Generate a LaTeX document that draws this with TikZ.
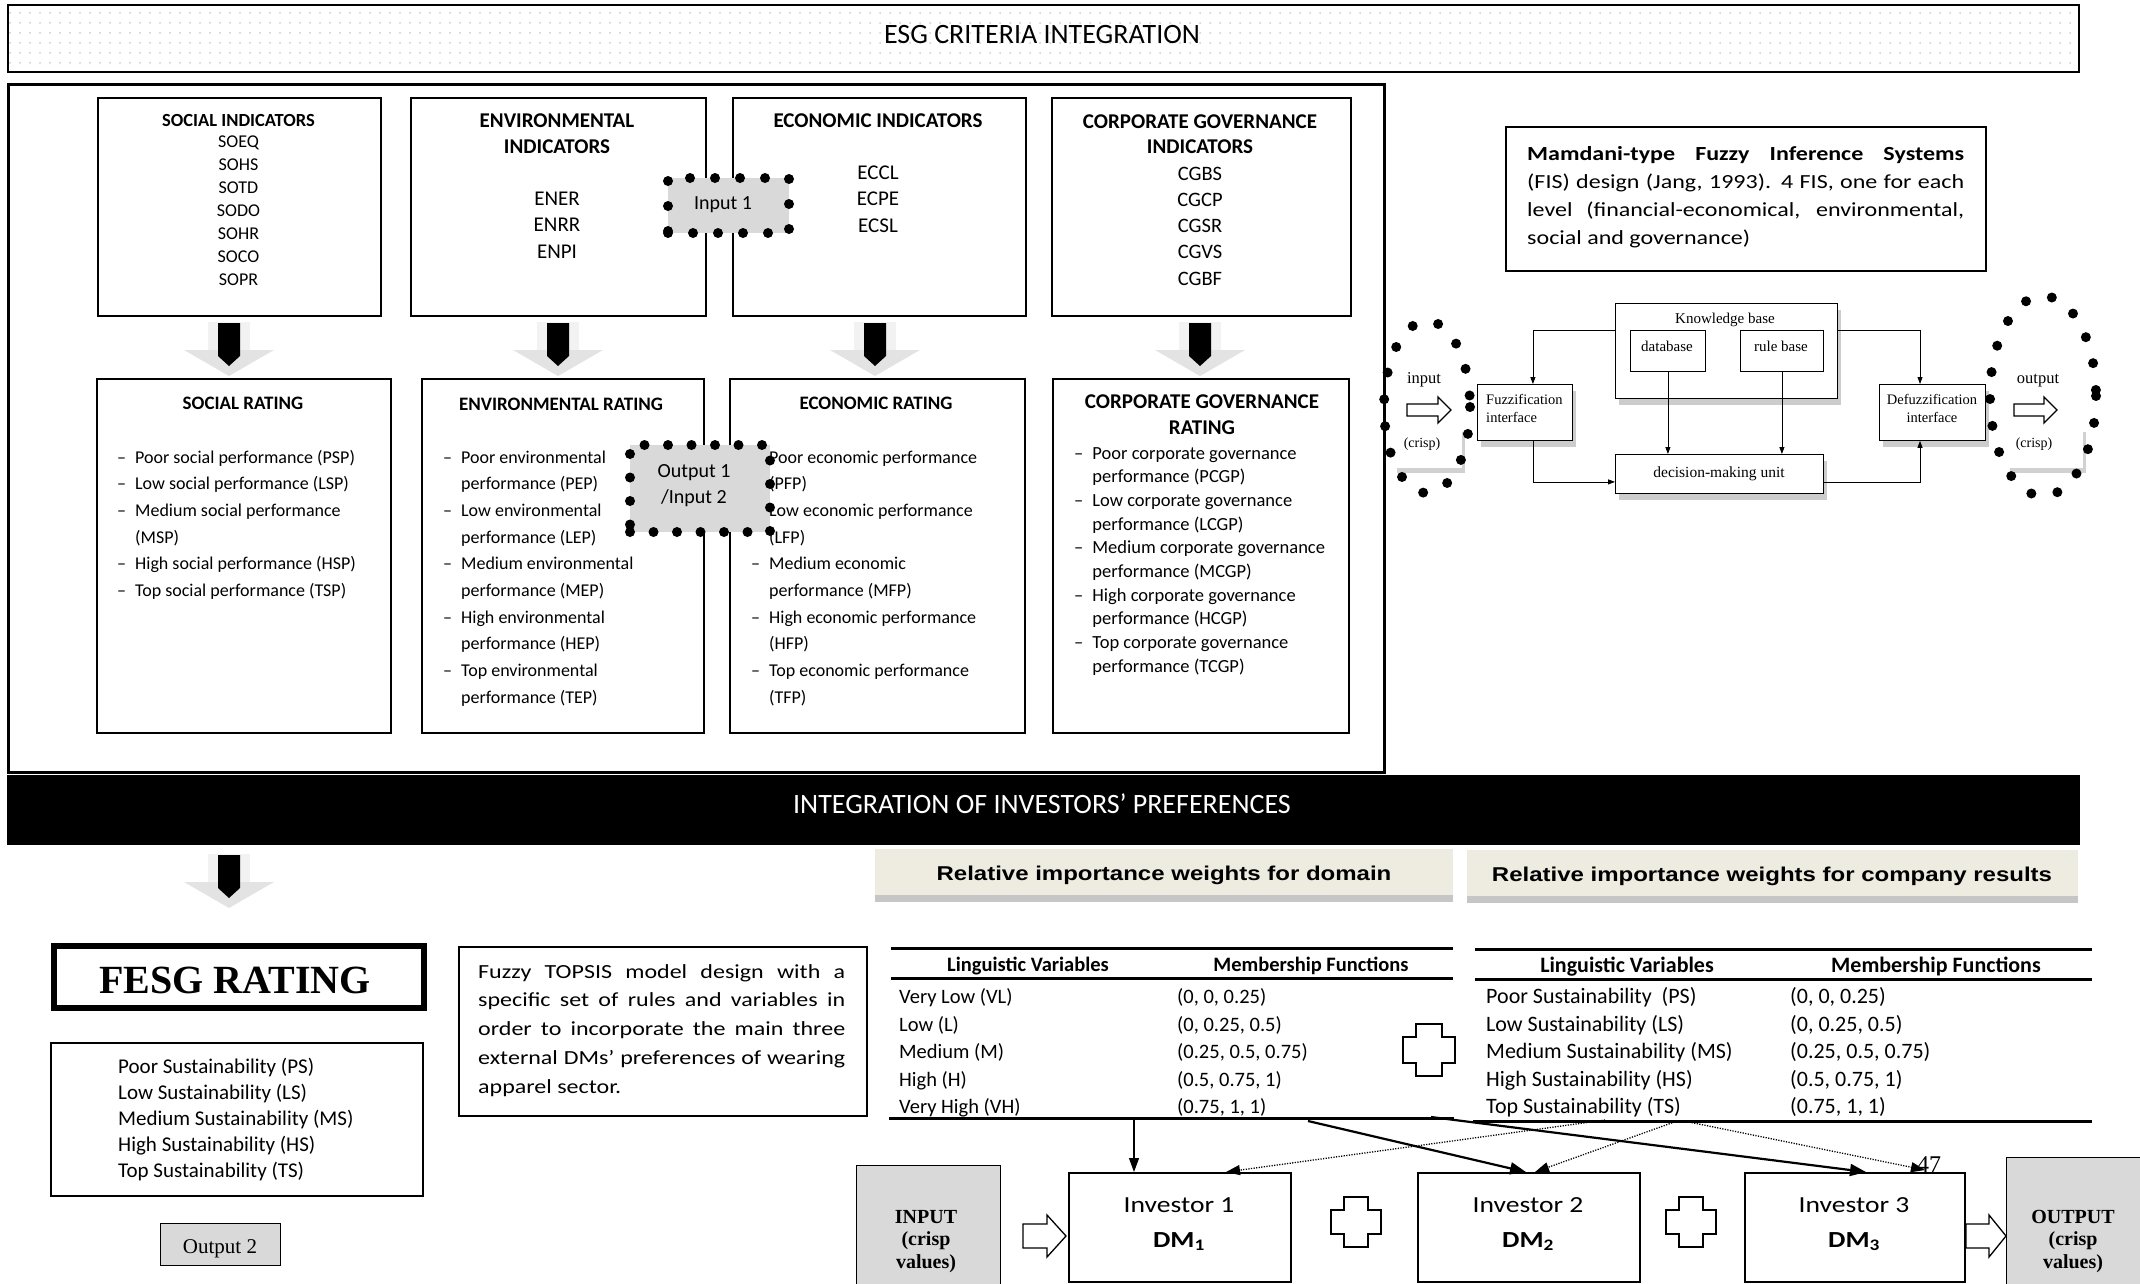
\documentclass[tikz,border=0pt]{standalone}
\usepackage{fontspec}
\setmainfont{Carlito}
\newfontfamily\calw[FakeStretch=1.2]{Carlito}
\newfontfamily\tnr{Liberation Serif}
\newfontfamily\arialw[FakeStretch=1.2]{Liberation Sans}
\usetikzlibrary{arrows.meta,shadows,patterns.meta,calc}
\definecolor{beige}{HTML}{EEECE1}
\definecolor{lgray}{HTML}{D9D9D9}
\newcommand\fsz[2]{\fontsize{#1}{#2}\selectfont}
\newcommand\plusshape[4]{\draw[line width=1.6pt,fill=white] (#1-#4,#2-#3) -- (#1+#4,#2-#3) -- (#1+#4,#2-#4) -- (#1+#3,#2-#4) -- (#1+#3,#2+#4) -- (#1+#4,#2+#4) -- (#1+#4,#2+#3) -- (#1-#4,#2+#3) -- (#1-#4,#2+#4) -- (#1-#3,#2+#4) -- (#1-#3,#2-#4) -- (#1-#4,#2-#4) -- cycle;}
\newcommand\hollowarrow[6]{\draw[line width=1.3pt,fill=white] (#1,#3-#4) -- (#2-#6,#3-#4) -- (#2-#6,#3-#5) -- (#2,#3) -- (#2-#6,#3+#5) -- (#2-#6,#3+#4) -- (#1,#3+#4) -- cycle;}
\newcommand\bnode[6][]{\node[bx,#1,minimum width=#5pt,minimum height=#6pt] (#2) at (#3,#4) {};}
\tikzset{blockdown/.pic={
  \fill[gray!10] (-21,-1) rectangle (21,30);
  \fill[gray!22] (-45,27) -- (45,27) -- (0,53) -- cycle;
  \fill[black] (-11,0) -- (11,0) -- (11,33) -- (0,43) -- (-11,33) -- cycle;
}}
\begin{document}
\begin{tikzpicture}[x=1pt,y=-1pt,
  bx/.style={draw,line width=1.6pt,inner sep=0pt,anchor=north west},
  tb/.style={inner sep=0pt,anchor=base},
  tbw/.style={inner sep=0pt,anchor=base west},
  fbox/.style={draw,line width=0.8pt,fill=white,inner sep=0pt,anchor=north west,drop shadow={shadow xshift=4pt,shadow yshift=-7pt,fill=black,opacity=0.2}},
  pbox/.style={draw,line width=0.8pt,fill=white,inner sep=0pt,anchor=north west},
  farr/.style={line width=0.8pt,-{Triangle[length=7pt,width=5pt]}},
  bigdots/.style={draw,line width=10pt,line cap=round,dash pattern=on 0pt off 25pt,fill=lgray,inner sep=0pt,anchor=north west},
  ringdots/.style={line width=10pt,line cap=round,dash pattern=on 0pt off 27pt},
  thinarr/.style={line width=1.1pt,-{Triangle[length=14pt,width=10pt]}},
  thickarr/.style={line width=2.2pt,-{Triangle[length=16pt,width=12pt]}},
  dotarr/.style={line width=1.3pt,dash pattern=on 1.2pt off 1.4pt,-{Triangle[length=14pt,width=10pt]}},
  relbox/.style={anchor=north west,inner sep=0pt,fill=beige,drop shadow={shadow xshift=0pt,shadow yshift=-7pt,fill=gray,opacity=0.45}}
]
\useasboundingbox (0,0) rectangle (2140,1283);

% ---------- top banner ----------
\node[bx,line width=2.2pt,pattern={Dots[distance=10pt,radius=1pt]},pattern color=gray!40,minimum width=2071pt,minimum height=67pt] (ban1) at (7,4) {};
\node[tb] (ban1t) at (1042,43) {\fsz{28}{32}ESG CRITERIA INTEGRATION};

\node[bx,line width=2.5pt,minimum width=1376pt,minimum height=688pt] (esg) at (7,83) {};

% ---------- indicator boxes ----------
\bnode{socI}{97}{97}{283}{218}
\bnode{envI}{410}{97}{295}{218}
\bnode{ecoI}{732}{97}{293}{218}
\bnode{cgI}{1051}{97}{299}{218}

\node[tb] (socIt) at (238.5,126) {\fsz{18.5}{22}\bfseries SOCIAL INDICATORS};
\node[tb] (socIl) at (238.5,147.5) {\fsz{18}{23}\begin{tabular}[t]{@{}c@{}}SOEQ\\SOHS\\SOTD\\SODO\\SOHR\\SOCO\\SOPR\end{tabular}};
\node[tb] (envIt) at (557,127) {\fsz{21}{26}\bfseries\begin{tabular}[t]{@{}c@{}}ENVIRONMENTAL\\INDICATORS\end{tabular}};
\node[tb] (envIl) at (557,205) {\fsz{21}{26.5}\begin{tabular}[t]{@{}c@{}}ENER\\ENRR\\ENPI\end{tabular}};
\node[tb] (ecoIt) at (878,127) {\fsz{21}{26}\bfseries ECONOMIC INDICATORS};
\node[tb] (ecoIl) at (878,179) {\fsz{21}{26.5}\begin{tabular}[t]{@{}c@{}}ECCL\\ECPE\\ECSL\end{tabular}};
\node[tb] (cgIt) at (1200,128) {\fsz{21}{25}\bfseries\begin{tabular}[t]{@{}c@{}}CORPORATE GOVERNANCE\\INDICATORS\end{tabular}};
\node[tb] (cgIl) at (1200,180) {\fsz{20.5}{26.3}\begin{tabular}[t]{@{}c@{}}CGBS\\CGCP\\CGSR\\CGVS\\CGBF\end{tabular}};

% ---------- block arrows ----------
\pic (ba1) at (229,323) {blockdown};
\pic (ba2) at (558,323) {blockdown};
\pic (ba3) at (875,323) {blockdown};
\pic (ba4) at (1200,323) {blockdown};

% ---------- rating boxes ----------
\bnode{socR}{96}{378}{294}{354}
\bnode{envR}{421}{378}{282}{354}
\bnode{ecoR}{729}{378}{295}{354}
\bnode{cgR}{1052}{378}{296}{354}

\node[tb] (socRt) at (243,409) {\fsz{19}{23}\bfseries SOCIAL RATING};
\node[tb] (envRt) at (561,410) {\fsz{19}{23}\bfseries ENVIRONMENTAL RATING};
\node[tb] (ecoRt) at (876,409) {\fsz{19}{23}\bfseries ECONOMIC RATING};
\node[tb] (cgRt) at (1202,408) {\fsz{21}{26}\bfseries\begin{tabular}[t]{@{}c@{}}CORPORATE GOVERNANCE\\RATING\end{tabular}};

\node[tbw] (socRl) at (117,463) {\fsz{18}{26.7}\begin{tabular}[t]{@{}l@{\hspace{9pt}}l@{}}
– & Poor social performance (PSP)\\
– & Low social performance (LSP)\\
– & Medium social performance\\
  & (MSP)\\
– & High social performance (HSP)\\
– & Top social performance (TSP)\end{tabular}};
\node[tbw] (envRl) at (443,463) {\fsz{18}{26.67}\begin{tabular}[t]{@{}l@{\hspace{9pt}}l@{}}
– & Poor environmental\\ & performance (PEP)\\
– & Low environmental\\ & performance (LEP)\\
– & Medium environmental\\ & performance (MEP)\\
– & High environmental\\ & performance (HEP)\\
– & Top environmental\\ & performance (TEP)\end{tabular}};
\node[tbw] (ecoRl) at (751,463) {\fsz{18}{26.67}\begin{tabular}[t]{@{}l@{\hspace{9pt}}l@{}}
– & Poor economic performance\\ & (PFP)\\
– & Low economic performance\\ & (LFP)\\
– & Medium economic\\ & performance (MFP)\\
– & High economic performance\\ & (HFP)\\
– & Top economic performance\\ & (TFP)\end{tabular}};
\node[tbw] (cgRl) at (1074,459) {\fsz{18.5}{23.67}\begin{tabular}[t]{@{}l@{\hspace{9pt}}l@{}}
– & Poor corporate governance\\ & performance (PCGP)\\
– & Low corporate governance\\ & performance (LCGP)\\
– & Medium corporate governance\\ & performance (MCGP)\\
– & High corporate governance\\ & performance (HCGP)\\
– & Top corporate governance\\ & performance (TCGP)\end{tabular}};

% ---------- dotted input/output nodes ----------
\node[bigdots,minimum width=121pt,minimum height=55pt] (in1) at (663,173) {};
\node[tb] (in1t) at (723,209) {\fsz{20}{24}Input 1};
\node[bigdots,dash pattern=on 0pt off 23.5pt,minimum width=140pt,minimum height=87pt] (out1) at (625,440) {};
\node[tb] (out1t) at (694,477) {\fsz{20}{26}\begin{tabular}[t]{@{}c@{}}Output 1\\/Input 2\end{tabular}};

% ---------- Mamdani text box ----------
\bnode{mam}{1505}{126}{480}{144}
\node[tbw] (mamt) at (1527,160) {\fsz{20}{28}\calw\begin{tabular}[t]{@{}l@{}}
\makebox[437pt][s]{\bfseries Mamdani-type Fuzzy Inference Systems}\\
\makebox[437pt][s]{(FIS) design (Jang, 1993). 4 FIS, one for each}\\
\makebox[437pt][s]{level (financial-economical, environmental,}\\
social and governance)\end{tabular}};

% ---------- fuzzy inference diagram ----------
\node[fbox,minimum width=222pt,minimum height=95pt] (kb) at (1615,303) {};
\node[pbox,minimum width=75pt,minimum height=41pt] (db) at (1630,330) {};
\node[pbox,minimum width=83pt,minimum height=41pt] (rb) at (1740,330) {};
\node[fbox,minimum width=95pt,minimum height=56pt] (fuzz) at (1477,384) {};
\node[fbox,minimum width=106pt,minimum height=56pt] (defuzz) at (1879,384) {};
\node[fbox,minimum width=208pt,minimum height=39pt] (dmu) at (1615,454) {};

\node[tb] (kbt) at (1725,323) {\tnr\fsz{15}{18}Knowledge base};
\node[tb] (dbt) at (1667,351) {\tnr\fsz{15}{18}database};
\node[tb] (rbt) at (1781,351) {\tnr\fsz{15}{18}rule base};
\node[tbw] (fuzzt) at (1486,404) {\tnr\fsz{14.5}{18}\begin{tabular}[t]{@{}l@{}}Fuzzification\\interface\end{tabular}};
\node[tb] (defuzzt) at (1932,404) {\tnr\fsz{14.5}{18}\begin{tabular}[t]{@{}c@{}}Defuzzification\\interface\end{tabular}};
\node[tb] (dmut) at (1719,477) {\tnr\fsz{15.5}{18}decision-making unit};

\draw[farr] (kb.west |- db.north) -| ($(fuzz.north)+(8,0)$);
\draw[farr] (kb.east |- rb.north) -| ($(defuzz.north west)+(41,0)$);
\draw[farr] (db.south) -- (db.south |- dmu.north);
\draw[farr] (rb.south) -- (rb.south |- dmu.north);
\draw[farr] ($(fuzz.south)+(8,0)$) |- ($(dmu.west)+(0,8)$);
\draw[farr] ($(dmu.east)+(0,8)$) -| ($(defuzz.south west)+(41,0)$);

\node[anchor=north west,inner sep=0pt,fill=white,minimum width=68pt,minimum height=41pt,drop shadow={shadow xshift=3pt,shadow yshift=-5pt,fill=black,opacity=0.18}] (crL) at (1394,427) {};
\node[anchor=north west,inner sep=0pt,fill=white,minimum width=76pt,minimum height=41pt,drop shadow={shadow xshift=3pt,shadow yshift=-5pt,fill=black,opacity=0.18}] (crR) at (2007,427) {};
\node[tb] (crLt) at (1422,447) {\tnr\fsz{14}{17}(crisp)};
\node[tb] (crRt) at (2034,447) {\tnr\fsz{14}{17}(crisp)};
\node[tb] (inpt) at (1424,383) {\tnr\fsz{16.5}{19}input};
\node[tb] (outpt) at (2038,383) {\tnr\fsz{16.5}{19}output};
\hollowarrow{1407}{1451}{410}{6}{13}{13}
\hollowarrow{2014}{2057}{410}{6}{13}{13}
\draw[ringdots] (1427,407) ellipse [x radius=43, y radius=86];
\draw[ringdots] (2043,396) ellipse [x radius=53, y radius=100];

% ---------- second banner ----------
\node[bx,fill=black,minimum width=2071pt,minimum height=68pt] (ban2) at (7,775) {};
\node[tb,text=white] (ban2t) at (1042,813) {\fsz{28}{32}INTEGRATION OF INVESTORS’ PREFERENCES};

\pic (ba5) at (229,855) {blockdown};

% ---------- FESG ----------
\node[bx,line width=6pt,minimum width=370pt,minimum height=62pt] (fesg) at (51,943) {};
\node[tb] (fesgt) at (235,993) {\tnr\bfseries\fsz{40}{44}FESG RATING};
\bnode{sus}{50}{1042}{372}{153}
\node[tbw] (sust) at (118,1073) {\fsz{21}{26}\begin{tabular}[t]{@{}l@{}}Poor Sustainability (PS)\\Low Sustainability (LS)\\Medium Sustainability (MS)\\High Sustainability (HS)\\Top Sustainability (TS)\end{tabular}};
\bnode[fill=lgray,line width=1.3pt]{out2}{160}{1223}{120}{42}
\node[tb] (out2t) at (220,1253) {\tnr\fsz{21}{24}Output 2};

\bnode{tops}{458}{946}{408}{169}
\node[tbw] (topst) at (478,978) {\fsz{20}{28.8}\calw\begin{tabular}[t]{@{}l@{}}
\makebox[367pt][s]{Fuzzy TOPSIS model design with a}\\
\makebox[367pt][s]{specific set of rules and variables in}\\
\makebox[367pt][s]{order to incorporate the main three}\\
\makebox[367pt][s]{external DMs’ preferences of wearing}\\
apparel sector.\end{tabular}};

% ---------- relative importance headers ----------
\node[relbox,minimum width=578pt,minimum height=46pt] (rel1) at (875,849) {};
\node[relbox,minimum width=611pt,minimum height=46pt] (rel2) at (1467,850) {};
\node[tb] (rel1t) at (1164,880) {\arialw\bfseries\fsz{20}{24}Relative importance weights for domain};
\node[tb] (rel2t) at (1772,881) {\arialw\bfseries\fsz{20}{24}Relative importance weights for company results};

% ---------- tables ----------
\draw[line width=3pt] (891,948) -- (1453,948);
\draw[line width=3pt] (891,978) -- (1453,978);
\draw[line width=3pt] (889,1118) -- (1454,1118);
\node[tb] (t1h1) at (1028,971) {\fsz{20.5}{24}\bfseries Linguistic Variables};
\node[tb] (t1h2) at (1311,971) {\fsz{20.5}{24}\bfseries Membership Functions};
\node[tbw] (t1n) at (899,1003.5) {\fsz{20.5}{27.5}\begin{tabular}[t]{@{}l@{}}Very Low (VL)\\Low (L)\\Medium (M)\\High (H)\\Very High (VH)\end{tabular}};
\node[tbw] (t1m) at (1177,1003.5) {\fsz{20.5}{27.5}\begin{tabular}[t]{@{}l@{}}(0, 0, 0.25)\\(0, 0.25, 0.5)\\(0.25, 0.5, 0.75)\\(0.5, 0.75, 1)\\(0.75, 1, 1)\end{tabular}};

\draw[line width=3pt] (1475,949) -- (2092,949);
\draw[line width=3pt] (1475,979) -- (2092,979);
\draw[line width=3pt] (1473,1121) -- (2092,1121);
\node[tb] (t2h1) at (1627,972) {\fsz{22}{26}\bfseries Linguistic Variables};
\node[tb] (t2h2) at (1936,972) {\fsz{22}{26}\bfseries Membership Functions};
\node[tbw] (t2n) at (1486,1003.5) {\fsz{22}{27.5}\begin{tabular}[t]{@{}l@{}}Poor Sustainability\ \ (PS)\\Low Sustainability (LS)\\Medium Sustainability (MS)\\High Sustainability (HS)\\Top Sustainability (TS)\end{tabular}};
\node[tbw] (t2m) at (1790,1003.5) {\fsz{22}{27.5}\begin{tabular}[t]{@{}l@{}}(0, 0, 0.25)\\(0, 0.25, 0.5)\\(0.25, 0.5, 0.75)\\(0.5, 0.75, 1)\\(0.75, 1, 1)\end{tabular}};

\plusshape{1429}{1050}{26}{13}

% ---------- bottom row ----------
\bnode[fill=lgray,line width=1.3pt]{inbox}{856}{1165}{144}{140}
\node[tb] (inboxt) at (926,1223) {\tnr\bfseries\fsz{20}{22.5}\begin{tabular}[t]{@{}c@{}}INPUT\\(crisp\\values)\end{tabular}};
\bnode[fill=lgray,line width=1.3pt]{outbox}{2006}{1157}{150}{150}
\node[tb] (outboxt) at (2073,1223) {\tnr\bfseries\fsz{20}{22.5}\begin{tabular}[t]{@{}c@{}}OUTPUT\\(crisp\\values)\end{tabular}};

\hollowarrow{1023}{1066}{1236}{12}{21}{19}
\hollowarrow{1966}{2006}{1236}{12}{21}{17}

\bnode{inv1}{1068}{1172}{222}{109}
\bnode{inv2}{1417}{1172}{222}{109}
\bnode{inv3}{1744}{1172}{220}{109}
\node[tb] (inv1t) at (1179,1212) {\calw\fsz{23}{27}Investor 1};
\node[tb] (inv1d) at (1179,1247) {\calw\fsz{23}{27}\bfseries DM\textsubscript{1}};
\node[tb] (inv2t) at (1528,1212) {\calw\fsz{23}{27}Investor 2};
\node[tb] (inv2d) at (1528,1247) {\calw\fsz{23}{27}\bfseries DM\textsubscript{2}};
\node[tb] (inv3t) at (1854,1212) {\calw\fsz{23}{27}Investor 3};
\node[tb] (inv3d) at (1854,1247) {\calw\fsz{23}{27}\bfseries DM\textsubscript{3}};

\plusshape{1356}{1222}{25}{12}
\plusshape{1691}{1222}{25}{12}

% connectors from tables to investors
\coordinate (s1) at (1134,1117);
\coordinate (s2) at (1308,1121);
\coordinate (s3) at (1431,1117);
\coordinate (d1) at (1605,1120);
\coordinate (d2) at (1677,1121);
\coordinate (d3) at (1684,1121);
\coordinate (e2) at ($(inv2.north west)+(109,0)$);
\coordinate (e3) at ($(inv3.north west)+(122,0)$);
\coordinate (f1) at ($(inv1.north west)+(158,0)$);
\coordinate (f2) at ($(inv2.north west)+(118,0)$);
\coordinate (f3) at ($(inv3.north west)+(181,-2)$);
\draw[thinarr] (s1) -- (s1 |- inv1.north);
\draw[thickarr] (s2) -- (e2);
\draw[thickarr] (s3) -- (e3);
\draw[dotarr] (d1) -- (f1);
\draw[dotarr] (d2) -- (f2);
\draw[dotarr] (d3) -- (f3);

\node[tb] (pg) at (1929,1172) {\tnr\fsz{24}{26}47};
\end{tikzpicture}
\end{document}
